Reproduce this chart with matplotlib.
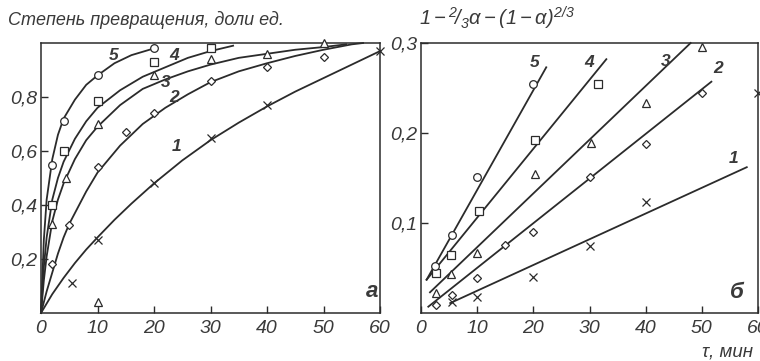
import numpy as np
import matplotlib
matplotlib.use("Agg")
import matplotlib.pyplot as plt

plt.rcParams['font.family'] = ['Liberation Sans', 'DejaVu Sans']
plt.rcParams['font.style'] = 'italic'
plt.rcParams['mathtext.fontset'] = 'custom'
plt.rcParams['mathtext.rm'] = 'Liberation Sans:italic'
plt.rcParams['mathtext.it'] = 'Liberation Sans:italic'

INK = '#2b2b2b'
TXT = '#3a3a3a'

# --- panel a: conversion degree vs time, curves 1..5 ---
curve_t = {
    5: [0, 0.5, 1, 2, 3, 4, 6, 8, 10, 13, 16, 20],
    4: [0, 0.5, 1, 2, 3, 4, 6, 8, 10, 14, 18, 22, 26, 30, 34],
    3: [0, 0.5, 1, 2, 3, 4, 6, 8, 10, 14, 18, 22, 26, 30, 35, 40, 45, 50, 54],
    2: [0, 1, 2, 3, 4, 5, 6, 8, 10, 14, 18, 22, 26, 30, 35, 40, 45, 50, 55, 57],
    1: [0, 2, 4, 6, 8, 10, 13, 16, 20, 25, 30, 35, 40, 45, 50, 55, 60],
}
curve_a = {
    5: [0, 0.27, 0.42, 0.57, 0.66, 0.72, 0.79, 0.845, 0.88, 0.925, 0.955, 0.98],
    4: [0, 0.17, 0.28, 0.42, 0.50, 0.56, 0.645, 0.71, 0.76, 0.825, 0.875, 0.91, 0.945, 0.97, 0.99],
    3: [0, 0.12, 0.21, 0.34, 0.42, 0.48, 0.57, 0.64, 0.69, 0.77, 0.83, 0.865, 0.895, 0.92,
        0.945, 0.96, 0.975, 0.985, 0.995],
    2: [0, 0.08, 0.15, 0.22, 0.28, 0.33, 0.37, 0.45, 0.52, 0.62, 0.70, 0.76, 0.81, 0.855,
        0.895, 0.925, 0.952, 0.975, 0.995, 1.0],
    1: [0, 0.07, 0.13, 0.185, 0.235, 0.28, 0.345, 0.405, 0.48, 0.565, 0.64, 0.705, 0.765,
        0.82, 0.87, 0.92, 0.97],
}
# measured points
pts_t_a = {
    5: [2, 4, 10, 20],
    4: [2, 4, 10, 20, 30],
    3: [2, 4.5, 10, 20, 30, 40, 50, 10],
    2: [2, 5, 10, 15, 20, 30, 40, 50],
    1: [5.5, 10, 20, 30, 40, 60],
}
pts_a = {
    5: [0.55, 0.71, 0.88, 0.98],
    4: [0.40, 0.60, 0.785, 0.93, 0.98],
    3: [0.33, 0.50, 0.70, 0.88, 0.94, 0.96, 1.0, 0.04],
    2: [0.18, 0.325, 0.54, 0.67, 0.74, 0.86, 0.91, 0.95],
    1: [0.11, 0.27, 0.48, 0.65, 0.77, 0.97],
}

# --- panel b: linearised form, straight fits ---
fit_t = {5: [1, 22.3], 4: [1, 33], 3: [1.6, 48], 2: [1.3, 51.7], 1: [5.2, 58]}
fit_f = {5: [0.037, 0.273], 4: [0.037, 0.282], 3: [0.023, 0.30],
         2: [0.007, 0.257], 1: [0.011, 0.162]}
pts_t_b = {
    5: [2.5, 5.5, 10, 20],
    4: [2.7, 5.3, 10.3, 20.3, 31.5],
    3: [2.6, 5.3, 10, 20.3, 30.3, 40, 50],
    2: [2.6, 5.5, 10, 15, 20, 30, 40, 50],
    1: [5.5, 10, 20, 30, 40, 60],
}
pts_f = {
    5: [0.052, 0.087, 0.151, 0.255],
    4: [0.044, 0.064, 0.113, 0.192, 0.254],
    3: [0.022, 0.043, 0.067, 0.155, 0.189, 0.233, 0.296],
    2: [0.009, 0.020, 0.039, 0.076, 0.090, 0.151, 0.188, 0.244],
    1: [0.012, 0.018, 0.040, 0.074, 0.123, 0.245],
}

markers = {5: 'o', 4: 's', 3: '^', 2: 'D', 1: 'x'}
msizes = {5: 5.5, 4: 5.5, 3: 5.5, 2: 4, 1: 6}

# curve number label positions
lab_a = {5: (12.9, 0.955), 4: (23.5, 0.955), 3: (22, 0.855), 2: (23.5, 0.80), 1: (23.9, 0.615)}
lab_b = {5: (20.2, 0.278), 4: (29.9, 0.278), 3: (43.5, 0.279), 2: (52.9, 0.272), 1: (55.6, 0.172)}

fig = plt.figure(figsize=(7.6, 3.61), dpi=100)
ax1 = fig.add_axes([41 / 760, 1 - 313 / 361, (380 - 41) / 760, 270 / 361])
ax2 = fig.add_axes([421 / 760, 1 - 313 / 361, (758 - 421) / 760, 270 / 361])


def draw_pts(ax, tt, vv, k):
    m = markers[k]
    if m == 'x':
        ax.plot(tt, vv, ls='none', marker=m, ms=msizes[k], mec=INK, mew=0.9, clip_on=False)
    else:
        ax.plot(tt, vv, ls='none', marker=m, ms=msizes[k], mfc='white', mec=INK,
                mew=0.9, clip_on=False, zorder=3)


for k in [1, 2, 3, 4, 5]:
    ax1.plot(curve_t[k], curve_a[k], color=INK, lw=1.3, clip_on=False)
    draw_pts(ax1, pts_t_a[k], pts_a[k], k)
    ax1.text(*lab_a[k], str(k), fontsize=12.5, fontweight='bold', color=TXT,
             ha='center', va='center')

    ax2.plot(fit_t[k], fit_f[k], color=INK, lw=1.3, clip_on=False)
    draw_pts(ax2, pts_t_b[k], pts_f[k], k)
    ax2.text(*lab_b[k], str(k), fontsize=12.5, fontweight='bold', color=TXT,
             ha='center', va='center')

ax1.set_xlim(0, 60)
ax1.set_ylim(0, 1.0)
ax1.set_xticks([0, 10, 20, 30, 40, 50, 60])
ax1.set_yticks([0.2, 0.4, 0.6, 0.8])
ax1.set_yticklabels(['0,2', '0,4', '0,6', '0,8'])

ax2.set_xlim(0, 60)
ax2.set_ylim(0, 0.3)
ax2.set_xticks([0, 10, 20, 30, 40, 50, 60])
ax2.set_yticks([0.1, 0.2, 0.3])
ax2.set_yticklabels(['0,1', '0,2', '0,3'])

for ax in (ax1, ax2):
    for s in ax.spines.values():
        s.set_color(INK)
        s.set_linewidth(1.1)
    ax.tick_params(direction='in', length=5, width=1, color=INK, labelcolor=TXT,
                   labelsize=14, top=False, right=False)
    ax.tick_params(axis='x', pad=5)
    ax.tick_params(axis='y', pad=3)
    for lbl in ax.get_xticklabels() + ax.get_yticklabels():
        lbl.set_style('italic')

ax1.text(58.6, 0.08, 'а', fontsize=16, fontweight='bold', color=TXT, ha='center', va='center')
ax2.text(56.3, 0.023, 'б', fontsize=16, fontweight='bold', color=TXT, ha='center', va='center')

fig.text(8 / 760, 1 - 20 / 361, 'Степень превращения, доли ед.', fontsize=13,
         color=TXT, ha='left', va='center')
fig.text(419 / 760, 1 - 18 / 361, r'$1-{}^{2}\!/_{3}\alpha-(1-\alpha)^{2/3}$',
         fontsize=14.5, color=TXT, ha='left', va='center')
fig.text(702 / 760, 1 - 352 / 361, 'τ, мин', fontsize=13.5, color=TXT,
         ha='left', va='center')

fig.savefig('out.png', dpi=100, facecolor='white')
